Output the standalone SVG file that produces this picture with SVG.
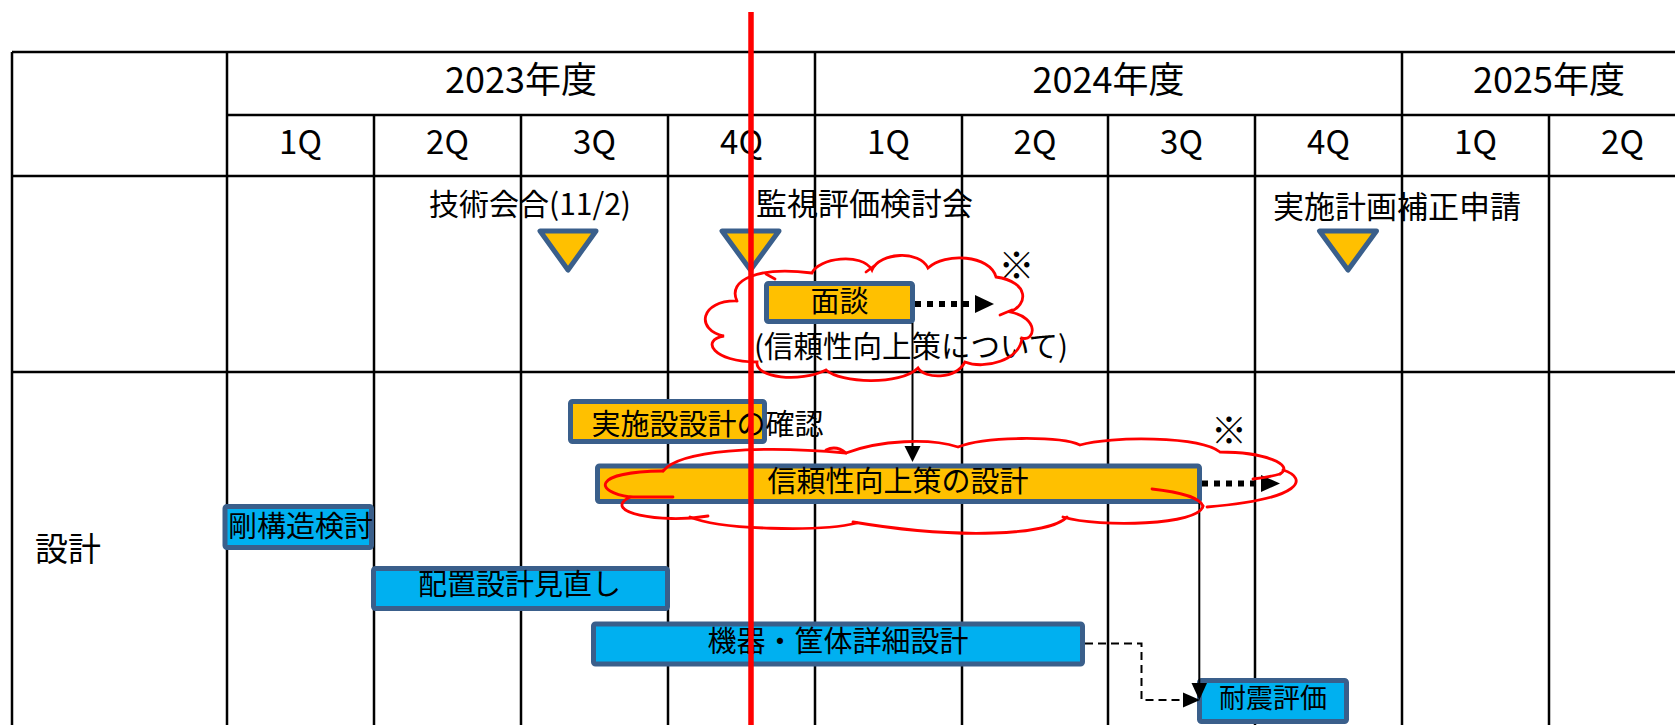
<svg xmlns="http://www.w3.org/2000/svg" width="1675" height="725" viewBox="0 0 1675 725">
<style>
text{font-family:"Noto Sans CJK JP","Noto Sans",sans-serif;fill:#000}
.grid{stroke:#000;stroke-width:2.5;fill:none}
.yr{font-size:36px;text-anchor:middle}
.q{font-size:33px;text-anchor:middle}
.ms{font-size:31px}
.bar{stroke:#3A5F8B;stroke-width:5;rx:2}
.org{fill:#FFC000}
.cyn{fill:#00B0F0}
.bt{font-size:29px;text-anchor:middle}
.tri{fill:#FFC000;stroke:#3A5F8B;stroke-width:5;stroke-linejoin:round}
.cloud{fill:none;stroke:#FF0000;stroke-width:2.8;stroke-linecap:round}
.ln{stroke:#000;stroke-width:2;fill:none}
.dot{stroke:#000;stroke-width:6;stroke-dasharray:6 6;fill:none}
.dash{stroke:#000;stroke-width:2;stroke-dasharray:8 5;fill:none}
.ah{fill:#000}
.kome{font-size:36px;text-anchor:middle}
</style>
<rect width="1675" height="725" fill="#fff"/>
<g id="table" class="grid">
<line x1="12" y1="52" x2="1675" y2="52"/>
<line x1="227" y1="115" x2="1675" y2="115"/>
<line x1="12" y1="176" x2="1675" y2="176"/>
<line x1="12" y1="372" x2="1675" y2="372"/>
<line x1="12" y1="52" x2="12" y2="725"/>
<line x1="227" y1="52" x2="227" y2="725"/>
<line x1="374" y1="115" x2="374" y2="725"/>
<line x1="521" y1="115" x2="521" y2="725"/>
<line x1="668" y1="115" x2="668" y2="725"/>
<line x1="815" y1="52" x2="815" y2="725"/>
<line x1="962" y1="115" x2="962" y2="725"/>
<line x1="1108" y1="115" x2="1108" y2="725"/>
<line x1="1255" y1="115" x2="1255" y2="725"/>
<line x1="1402" y1="52" x2="1402" y2="725"/>
<line x1="1549" y1="115" x2="1549" y2="725"/>
</g>
<g id="headers">
<text class="yr" x="521" y="93">2023年度</text>
<text class="yr" x="1108.5" y="93">2024年度</text>
<text class="yr" x="1549" y="93">2025年度</text>
<text class="q" x="300.5" y="154">1Q</text>
<text class="q" x="447.5" y="154">2Q</text>
<text class="q" x="594.5" y="154">3Q</text>
<text class="q" x="741.5" y="154">4Q</text>
<text class="q" x="888.5" y="154">1Q</text>
<text class="q" x="1035" y="154">2Q</text>
<text class="q" x="1181.5" y="154">3Q</text>
<text class="q" x="1328.5" y="154">4Q</text>
<text class="q" x="1475.5" y="154">1Q</text>
<text class="q" x="1622.5" y="154">2Q</text>
<text x="35" y="561" style="font-size:33px">設計</text>
</g>
<g id="ms-gijutsu">
<text x="429" y="215" style="font-size:30px">技術会合(11/2)</text>
<path class="tri" d="M540,231 L596,231 L568,270 Z"/>
</g>
<g id="ms-kanshi">
<text x="756" y="215" class="ms">監視評価検討会</text>
<path class="tri" d="M722,231 L779,231 L750.5,270 Z"/>
</g>
<g id="ms-hosei">
<text x="1273" y="218" class="ms">実施計画補正申請</text>
<path class="tri" d="M1319.5,231 L1376.5,231 L1348,270 Z"/>
</g>
<g id="mendan">
<rect class="bar org" x="766.5" y="283.5" width="146" height="38"/>
<text class="bt" x="839.5" y="312">面談</text>
</g>
<text id="mendan-note" x="754" y="357" style="font-size:29.5px">(信頼性向上策について)</text>
<text id="kome1" class="kome" x="1016.5" y="279">※</text>
<g id="jisshi">
<rect class="bar org" x="570.5" y="401.5" width="194" height="40"/>
<text x="591.5" y="435" style="font-size:29px">実施設設計の確認</text>
</g>
<g id="shinrai">
<rect class="bar org" x="597.5" y="466" width="602" height="35.5"/>
<text class="bt" x="898" y="492">信頼性向上策の設計</text>
</g>
<text id="kome2" class="kome" x="1229" y="444">※</text>
<g id="gou">
<rect class="bar cyn" x="225" y="506.5" width="146.5" height="41"/>
<text class="bt" x="300.5" y="537">剛構造検討</text>
</g>
<g id="haichi">
<rect class="bar cyn" x="373.5" y="568.5" width="294" height="40"/>
<text class="bt" x="519.5" y="595">配置設計見直し</text>
</g>
<g id="kiki">
<rect class="bar cyn" x="593.5" y="624" width="489" height="40"/>
<text class="bt" x="838" y="652">機器・筐体詳細設計</text>
</g>
<g id="taishin">
<rect class="bar cyn" x="1199.5" y="680.5" width="147" height="41"/>
<text class="bt" x="1273" y="708" style="font-size:27px">耐震評価</text>
</g>
<g id="connectors">
<line class="dot" x1="915" y1="304" x2="975" y2="304"/>
<path class="ah" d="M975,295 L994,304 L975,313 Z"/>
<line class="dot" x1="1202" y1="483.5" x2="1261" y2="483.5"/>
<path class="ah" d="M1261,475 L1280,483.5 L1261,492 Z"/>
<line class="ln" x1="912.5" y1="323" x2="912.5" y2="448"/>
<path class="ah" d="M904.5,446 L920.5,446 L912.5,462 Z"/>
<line class="ln" x1="1199.3" y1="503" x2="1199.3" y2="685"/>
<path class="ah" d="M1191.5,683 L1207,683 L1199.3,700 Z"/>
<polyline class="dash" points="1085,643.5 1141.5,643.5 1141.5,700 1184,700"/>
<path class="ah" d="M1183,692.5 L1200,700 L1183,707.5 Z"/>
</g>
<g id="cloud1" class="cloud">
<path d="M737,301 C727,280 758,266 812,273 C818,258 862,252 872,270 C880,252 920,250 928,268 C945,252 990,255 996,277 C1030,282 1028,305 1010,312 C1040,318 1035,342 1022,338 C1020,360 985,370 965,362 C955,380 925,379 918,368 C900,386 840,383 826,370 C800,383 755,378 757,362 C713,362 700,340 724,336 C695,330 700,300 737,301"/>
<path d="M766,274 L775,279"/>
<path d="M866,272 L874,266"/>
<path d="M1000,315 L1012,310"/>
</g>
<g id="cloud2" class="cloud">
<path d="M663,471 C680,450 760,445 846,453 C880,440 930,438 958,447 C985,436 1060,436 1080,445 C1110,436 1200,436 1220,452 C1265,452 1295,465 1280,474"/>
<path d="M1283,470 C1308,478 1305,499 1207,507"/>
<path d="M1280,474 C1270,477 1262,478 1253,479"/>
<path d="M1203,506 C1200,525 1100,528 1063,517"/>
<path d="M1067,517 C1050,535 960,540 853,522"/>
<path d="M857,523 C820,532 720,530 690,517"/>
<path d="M708,516 C660,524 600,512 630,497 C595,492 590,472 663,471"/>
<path d="M630,497 L673,497"/>
<path d="M1152,489 C1180,492 1200,498 1203,506"/>
<path d="M826,450 C834,446 840,448 846,453"/>
</g>
<line id="today" x1="751" y1="12" x2="751" y2="725" stroke="#FF0000" stroke-width="5.5"/>
</svg>
